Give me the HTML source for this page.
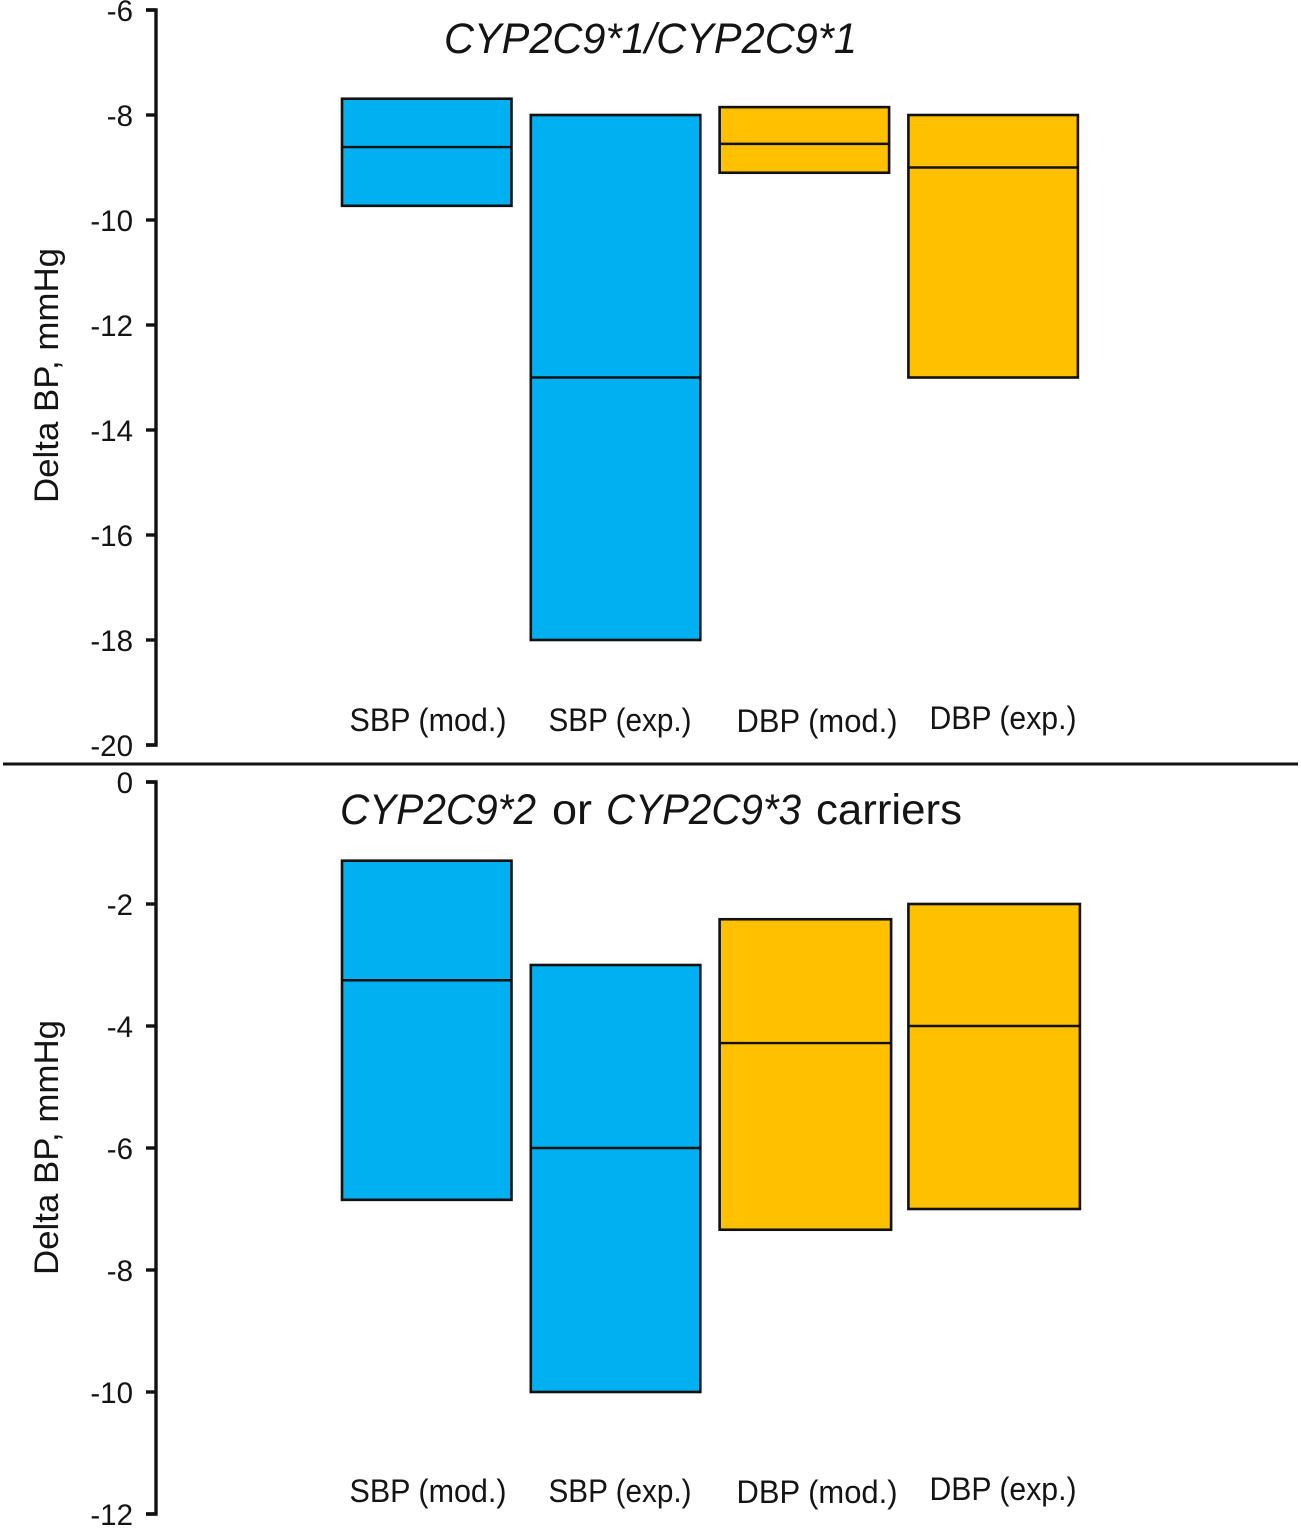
<!DOCTYPE html>
<html lang="en">
<head>
<meta charset="utf-8">
<title>Delta BP by CYP2C9 genotype</title>
<style>
  html, body { margin: 0; padding: 0; background: #fff; }
  body { width: 1301px; height: 1528px; overflow: hidden; }
  svg { display: block; }
  text { font-family: "Liberation Sans", "DejaVu Sans", sans-serif; fill: #141414; }
</style>
</head>
<body>
<svg id="chart" xmlns="http://www.w3.org/2000/svg" width="1301" height="1528" viewBox="0 0 1301 1528">
  <line x1="3" y1="764" x2="1298" y2="764" stroke="#111" stroke-width="3"/>

  <text x="444" y="53" font-size="43" font-style="italic" textLength="413" lengthAdjust="spacingAndGlyphs">CYP2C9*1/CYP2C9*1</text>
  <text transform="translate(58,375.5) rotate(-90)" text-anchor="middle" font-size="34" textLength="255" lengthAdjust="spacingAndGlyphs">Delta BP, mmHg</text>

  <text y="824" font-size="43">
    <tspan x="340" font-style="italic" textLength="196" lengthAdjust="spacingAndGlyphs">CYP2C9*2</tspan>
    <tspan x="552" textLength="40" lengthAdjust="spacingAndGlyphs">or</tspan>
    <tspan x="606" font-style="italic" textLength="195" lengthAdjust="spacingAndGlyphs">CYP2C9*3</tspan>
    <tspan x="816" textLength="146" lengthAdjust="spacingAndGlyphs">carriers</tspan>
  </text>
  <text transform="translate(58,1147.5) rotate(-90)" text-anchor="middle" font-size="34" textLength="255" lengthAdjust="spacingAndGlyphs">Delta BP, mmHg</text>
</svg>

<script>
// Chart data
const categories = ['SBP (mod.)', 'SBP (exp.)', 'DBP (mod.)', 'DBP (exp.)'];
const measures = ['sbp', 'sbp', 'dbp', 'dbp'];

const topTicks = [-6, -8, -10, -12, -14, -16, -18, -20];
const topHigh = [-7.69, -8, -7.85, -8];
const topMid = [-8.61, -13, -8.55, -9];
const topLow = [-9.73, -18, -9.1, -13];

const bottomTicks = [0, -2, -4, -6, -8, -10, -12];
const bottomHigh = [-1.29, -3, -2.25, -2];
const bottomMid = [-3.25, -6, -4.28, -4];
const bottomLow = [-6.85, -10, -7.34, -7];

const NS = 'http://www.w3.org/2000/svg';
const svg = document.getElementById('chart');
const INK = '#111';
const FILL = { sbp: '#00B0F0', dbp: '#FFC000' };

function make(tag, attrs, text) {
  const el = document.createElementNS(NS, tag);
  for (const k in attrs) el.setAttribute(k, attrs[k]);
  if (text !== undefined) el.textContent = text;
  return el;
}

function xBand(i) { return 342 + i * 188.8; }

function labelCenter(i) { return 428 + i * 192 + (i === 2 ? 5 : 0) - (i === 3 ? 1 : 0); }

function labelShift(i) { return i === 2 ? 1 : i === 3 ? -2 : 0; }

function drawPanel(prefix, ticks, high, mid, low, yScale, labelY, wideDbp) {
  const axisX = 156;
  const first = ticks[0];
  const last = ticks[ticks.length - 1];

  const axis = make('path', {
    d: 'M' + (axisX - 10) + ' ' + yScale(first) + 'H' + axisX + 'V' + yScale(last) + 'H' + (axisX - 10),
    fill: 'none', stroke: INK, 'stroke-width': 3.4
  });
  
  
  svg.appendChild(axis);

  ticks.forEach(function (t) {
    const y = yScale(t);
    const mark = make('line', { x1: axisX - 10, x2: axisX, y1: y, y2: y, stroke: INK, 'stroke-width': 3.4 });
    
    
    svg.appendChild(mark);

    const label = make('text', { x: 133, y: y + 11, 'text-anchor': 'end', 'font-size': 29.5 }, String(t));
    
    
    svg.appendChild(label);
  });

  categories.forEach(function (cat, i) {
    const x = xBand(i);
    const w = 169.5 + (wideDbp && i >= 2 ? 2 : 0);
    const yTop = yScale(high[i]);
    const yBot = yScale(low[i]);
    const yMid = yScale(mid[i]);

    const bar = make('rect', {
      x: x, y: yTop, width: w, height: yBot - yTop,
      fill: FILL[measures[i]], stroke: INK, 'stroke-width': 2.6
    });
    
    
    svg.appendChild(bar);

    const midLine = make('line', { x1: x, x2: x + w, y1: yMid, y2: yMid, stroke: INK, 'stroke-width': 2.4 });
    
    
    svg.appendChild(midLine);

    const width = cat.indexOf('DBP (mod') === 0 ? 161 : cat.indexOf('DBP') === 0 ? 147 : cat.indexOf('(mod') > 0 ? 157 : 143;
    const label = make('text', {
      x: labelCenter(i), y: labelY + labelShift(i), 'text-anchor': 'middle', 'font-size': 32,
      textLength: width, lengthAdjust: 'spacingAndGlyphs'
    }, cat);
    
    
    svg.appendChild(label);
  });
}

function yTop(v) { return 10 + (-6 - v) * 52.5; }
function yBottom(v) { return 782 + (0 - v) * 61; }

drawPanel('top', topTicks, topHigh, topMid, topLow, yTop, 731, false);
drawPanel('bottom', bottomTicks, bottomHigh, bottomMid, bottomLow, yBottom, 1502, true);
</script>
</body>
</html>
